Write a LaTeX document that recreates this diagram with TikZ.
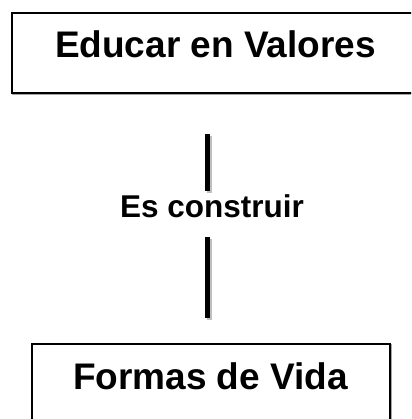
\documentclass[tikz,border=0pt]{standalone}
\usepackage{fontspec}
\setmainfont{Liberation Sans}
\begin{document}
\begin{tikzpicture}[x=1pt,y=-1pt,
  box/.style={draw=black,line width=1.6pt,fill=white,inner sep=0pt},
  boxshadow/.style={draw=black!35,line width=1.6pt,inner sep=0pt},
  big/.style={font=\bfseries\fontsize{37}{40}\selectfont,anchor=base,inner sep=0pt},
  mid/.style={font=\bfseries\fontsize{31.5}{34}\selectfont,anchor=base,inner sep=0pt},
  conn/.style={line width=5pt,black},
  connshadow/.style={line width=5pt,black!25}]
\useasboundingbox (0,0) rectangle (411,419);
\clip (0,0) rectangle (411,419);
% top box
\node[boxshadow,minimum width=420pt,minimum height=80pt] at (223,54) {};
\node[box,minimum width=420pt,minimum height=80pt] (topbox) at (222,53) {};
\node[big] (toptext) at (215.5,58) {Educar en Valores};
% bottom box
\node[boxshadow,minimum width=358pt,minimum height=90pt] at (212,390) {};
\node[box,minimum width=358pt,minimum height=90pt] (botbox) at (211,389) {};
\node[big] (bottext) at (210.5,389) {Formas de Vida};
% connector
\coordinate (a) at (207,134);
\coordinate (c1) at (207,191);
\coordinate (c2) at (207,237);
\coordinate (b) at (207,318);
\coordinate (as) at (209,136);
\coordinate (c1s) at (209,193);
\coordinate (c2s) at (209,239);
\coordinate (bs) at (209,320);
\draw[connshadow] (as) -- (c1s);
\draw[connshadow] (c2s) -- (bs);
\draw[conn] (a) -- (c1);
\draw[conn] (c2) -- (b);
\node[mid] (lbl) at (212,217) {Es construir};
\end{tikzpicture}
\end{document}
